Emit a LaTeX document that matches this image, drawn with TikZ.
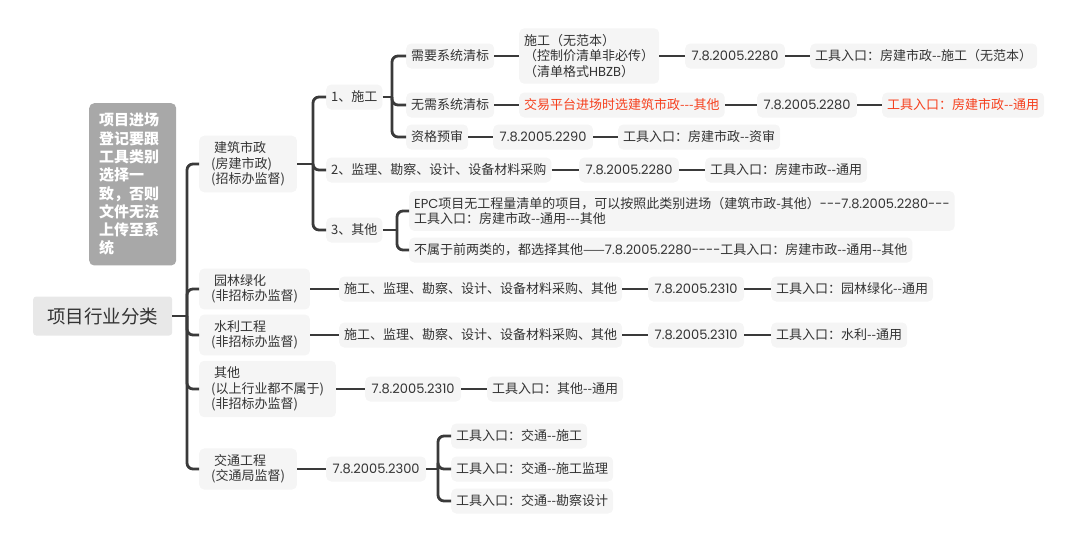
\documentclass[tikz,border=0pt]{standalone}
\usepackage{fontspec}
\newfontfamily\cjk{Noto Sans CJK SC}
\newfontfamily\numfont{Poppins}
\definecolor{linec}{HTML}{3A3A3A}
\definecolor{boxc}{HTML}{F5F5F5}
\definecolor{rootc}{HTML}{E8E8E8}
\definecolor{tipc}{HTML}{A8A8A8}
\definecolor{hot}{HTML}{F5401E}
\definecolor{txt}{HTML}{333333}

\begin{document}
\begin{tikzpicture}[x=1pt, y=-1pt,
    box/.style={fill=boxc, rounded corners=5pt, anchor=west, inner xsep=5pt, inner ysep=6pt,
      minimum height=25pt, align=left, text=txt, font=\cjk\fontsize{13}{15.5}\selectfont},
    topic/.style={box, inner xsep=12pt},
    numbox/.style={box, inner xsep=6.5pt, font=\numfont\fontsize{13}{15.5}\selectfont},
    hotbox/.style={box, text=hot},
    root/.style={fill=rootc, rounded corners=3pt, anchor=west, inner xsep=14pt, inner ysep=9pt,
      minimum height=39pt, text=txt, font=\cjk\fontsize{18.5}{22}\selectfont},
    tip/.style={fill=tipc, rounded corners=5pt, anchor=north west, text=white, align=left,
      text width=67pt, inner xsep=10pt, inner ysep=10pt, font=\cjk\bfseries\fontsize{15}{18.3}\selectfont},
    conn/.style={draw=linec, line width=2.8pt, rounded corners=6pt},
  ]
  \useasboundingbox (0,0) rectangle (1080,538);

  % Root and note
  \node[root] (hy) at (33,316) {项目行业分类};
  \node[tip] (tip) at (89,103) {项目进场\\登记要跟\\工具类别\\选择一\\致，否则\\文件无法\\上传至系\\统};

  % Industries
  \node[topic] (jz) at (199,164) {\hspace*{3pt}建筑市政\\(房建市政)\\(招标办监督)};
  \node[topic] (yl) at (199,289) {\hspace*{3pt}园林绿化\\(非招标办监督)};
  \node[topic] (sl) at (199,335) {\hspace*{3pt}水利工程\\(非招标办监督)};
  \node[topic] (qt) at (199,389) {\hspace*{3pt}其他\\(以上行业都不属于)\\(非招标办监督)};
  \node[topic] (jt) at (199,469) {\hspace*{3pt}交通工程\\(交通局监督)};

  % 建筑市政 branch
  \node[box] (sg) at (326,97) {1、施工};
  \node[box] (jl) at (326,170) {2、监理、勘察、设计、设备材料采购};
  \node[box] (qt3) at (326,230) {3、其他};

  \node[box] (xy) at (406,56) {需要系统清标};
  \node[box] (wx) at (406,105) {无需系统清标};
  \node[box] (zg) at (406,137) {资格预审};

  \node[box] (xyA) at (519,56) {施工（无范本）\\（控制价清单非必传）\\（清单格式{\numfont HBZB}）};
  \node[numbox] (xyB) at (685,56) {7.8.2005.2280};
  \node[box] (xyC) at (810,56) {工具入口：房建市政--施工（无范本）};

  \node[hotbox] (wxA) at (519,105) {交易平台进场时选建筑市政---其他};
  \node[numbox] (wxB) at (757,105) {7.8.2005.2280};
  \node[hotbox] (wxC) at (882,105) {工具入口：房建市政--通用};

  \node[numbox] (zgB) at (493,137) {7.8.2005.2290};
  \node[box] (zgC) at (618,137) {工具入口：房建市政--资审};

  \node[numbox] (jlB) at (579,170) {7.8.2005.2280};
  \node[box] (jlC) at (705,170) {工具入口：房建市政--通用};

  \node[box] (epc) at (409,211) {{\numfont EPC}项目无工程量清单的项目，可以按照此类别进场（建筑市政-其他）{\numfont ---7.8.2005.2280---}\\工具入口：房建市政--通用---其他};
  \node[box] (bs) at (409,250) {不属于前两类的，都选择其他——{\numfont 7.8.2005.2280----}工具入口：房建市政--通用--其他};

  % Other industries
  \node[box] (ylA) at (339,289) {施工、监理、勘察、设计、设备材料采购、其他};
  \node[numbox] (ylB) at (648,289) {7.8.2005.2310};
  \node[box] (ylC) at (771,289) {工具入口：园林绿化--通用};

  \node[box] (slA) at (339,335) {施工、监理、勘察、设计、设备材料采购、其他};
  \node[numbox] (slB) at (648,335) {7.8.2005.2310};
  \node[box] (slC) at (771,335) {工具入口：水利--通用};

  \node[numbox] (qtB) at (365,389) {7.8.2005.2310};
  \node[box] (qtC) at (487,389) {工具入口：其他--通用};

  \node[numbox] (jtB) at (326,469) {7.8.2005.2300};
  \node[box] (jt1) at (451,436) {工具入口：交通--施工};
  \node[box] (jt2) at (451,469) {工具入口：交通--施工监理};
  \node[box] (jt3) at (451,501) {工具入口：交通--勘察设计};

  % Brackets
  \coordinate (trunk) at (187,316);
  \coordinate (jzk) at (313,164);
  \coordinate (sgk) at (392,97);
  \coordinate (qtk) at (397,230);
  \coordinate (jtk) at (438,469);

  \draw[conn] (hy) -- (trunk);
  \foreach \c in {jz,yl,sl,qt,jt} \draw[conn] (trunk) |- (\c.west);
  \draw[conn] (jz) -- (jzk);
  \foreach \c in {sg,jl,qt3} \draw[conn] (jzk) |- (\c.west);
  \draw[conn] (sg) -- (sgk);
  \foreach \c in {xy,wx,zg} \draw[conn] (sgk) |- (\c.west);
  \draw[conn] (qt3) -- (qtk);
  \foreach \c in {epc,bs} \draw[conn] (qtk) |- (\c.west);
  \draw[conn] (jtB) -- (jtk);
  \foreach \c in {jt1,jt2,jt3} \draw[conn] (jtk) |- (\c.west);

  % Straight links
  \foreach \a/\b in {xy/xyA, xyA/xyB, xyB/xyC, wx/wxA, wxA/wxB, wxB/wxC, zg/zgB, zgB/zgC,
      jl/jlB, jlB/jlC, yl/ylA, ylA/ylB, ylB/ylC, sl/slA, slA/slB, slB/slC,
      qt/qtB, qtB/qtC, jt/jtB}
    \draw[conn] (\a) -- (\b);
\end{tikzpicture}
\end{document}
